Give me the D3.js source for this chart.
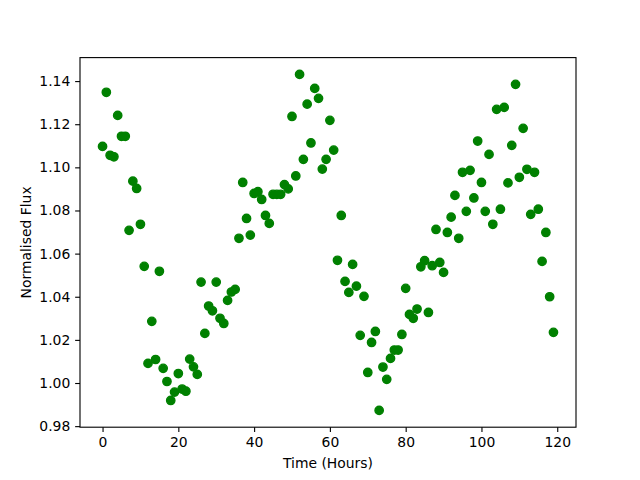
<!DOCTYPE html>
<html>
<head>
<meta charset="utf-8">
<script src="https://cdnjs.cloudflare.com/ajax/libs/d3/7.8.5/d3.min.js"></script>
<style>
  body { margin: 0; background: #fff; }
  text { font-family: "DejaVu Sans", sans-serif; }
</style>
</head>
<body>
<div id="my_dataviz"></div>
<script>

// Light curve: one reading per hour
var hours = d3.range(0, 120);
var flux = [
    1.1097, 1.1348, 1.1056, 1.1049, 1.1241, 1.1144, 1.1144, 1.0708, 1.0936, 1.0902,
    1.0736, 1.0541, 1.0091, 1.0286, 1.0109, 1.0518, 1.0068, 1.0007, 0.9919, 0.9958,
    1.0044, 0.9972, 0.9962, 1.0111, 1.0075, 1.0040, 1.0468, 1.0230, 1.0357, 1.0335,
    1.0468, 1.0300, 1.0276, 1.0383, 1.0422, 1.0434, 1.0671, 1.0930, 1.0763, 1.0686,
    1.0879, 1.0887, 1.0851, 1.0777, 1.0740, 1.0875, 1.0875, 1.0875, 1.0920, 1.0900,
    1.1236, 1.0960, 1.1431, 1.1037, 1.1293, 1.1113, 1.1366, 1.1320, 1.0992, 1.1037,
    1.1218, 1.1080, 1.0569, 1.0777, 1.0471, 1.0420, 1.0550, 1.0449, 1.0221, 1.0402,
    1.0049, 1.0188, 1.0239, 0.9873, 1.0074, 1.0017, 1.0114, 1.0153, 1.0153, 1.0225,
    1.0439, 1.0318, 1.0300, 1.0343, 1.0539, 1.0567, 1.0327, 1.0544, 1.0712, 1.0559,
    1.0513, 1.0698, 1.0769, 1.0870, 1.0671, 1.0977, 1.0796, 1.0986, 1.0858, 1.1122,
    1.0930, 1.0796, 1.1060, 1.0736, 1.1269, 1.0806, 1.1278, 1.0928, 1.1102, 1.1385,
    1.0954, 1.1181, 1.0991, 1.0782, 1.0977, 1.0806, 1.0564, 1.0698, 1.0400, 1.0235
];
var xTicks = [0, 20, 40, 60, 80, 100, 120];
var yTicks = [0.98, 1.00, 1.02, 1.04, 1.06, 1.08, 1.10, 1.12, 1.14];

var data = hours.map(function(h, i) { return {t: h, f: flux[i]}; });

// figure 640x480, axes box like matplotlib defaults
// (don't call it "top" -- window.top is read-only)
var box = {left: 80, right: 576, top: 57.6, bottom: 427.2};

var svg = d3.select("#my_dataviz")
    .append("svg")
    .attr("width", 640)
    .attr("height", 480);

// 5% padding on both axes
function padded(ext) {
    var r = ext[1] - ext[0];
    return [ext[0] - 0.05 * r, ext[1] + 0.05 * r];
}

var x = d3.scaleLinear()
    .domain(padded(d3.extent(hours)))
    .range([box.left, box.right]);

var y = d3.scaleLinear()
    .domain(padded(d3.extent(flux)))
    .range([box.bottom, box.top]);

// points
svg.selectAll("circle.pt")
    .data(data)
    .enter()
    .append("circle")
    .attr("class", "pt")
    .attr("cx", function(d) { return x(d.t); })
    .attr("cy", function(d) { return y(d.f); })
    .attr("r", 4.17)
    .attr("fill", "#008000")
    .attr("stroke", "#008000")
    .attr("stroke-width", 1.39);

// X axis
var xAxis = svg.append("g")
    .attr("transform", "translate(0," + box.bottom + ")")
    .call(d3.axisBottom(x).tickValues(xTicks).tickSize(4.86).tickPadding(4.86).tickFormat(d3.format("d")));

// Y axis
var yAxis = svg.append("g")
    .attr("transform", "translate(" + box.left + ",0)")
    .call(d3.axisLeft(y).tickValues(yTicks).tickSize(4.86).tickPadding(4.86).tickFormat(d3.format(".2f")));

[xAxis, yAxis].forEach(function(g) {
    g.select(".domain").remove();
    g.selectAll(".tick line").attr("stroke", "#000").attr("stroke-width", 1.11);
    g.selectAll(".tick text").attr("fill", "#000").style("font-size", "13.9px")
        .style("font-family", "'DejaVu Sans', sans-serif");
});

// frame
svg.append("rect")
    .attr("x", box.left)
    .attr("y", box.top)
    .attr("width", box.right - box.left)
    .attr("height", box.bottom - box.top)
    .attr("fill", "none")
    .attr("stroke", "#000")
    .attr("stroke-width", 1.11);

// labels
svg.append("text")
    .attr("x", (box.left + box.right) / 2)
    .attr("y", 468)
    .attr("text-anchor", "middle")
    .style("font-size", "13.9px")
    .text("Time (Hours)");

svg.append("text")
    .attr("transform", "translate(31," + ((box.top + box.bottom) / 2) + ") rotate(-90)")
    .attr("text-anchor", "middle")
    .style("font-size", "13.9px")
    .text("Normalised Flux");

</script>
</body>
</html>
